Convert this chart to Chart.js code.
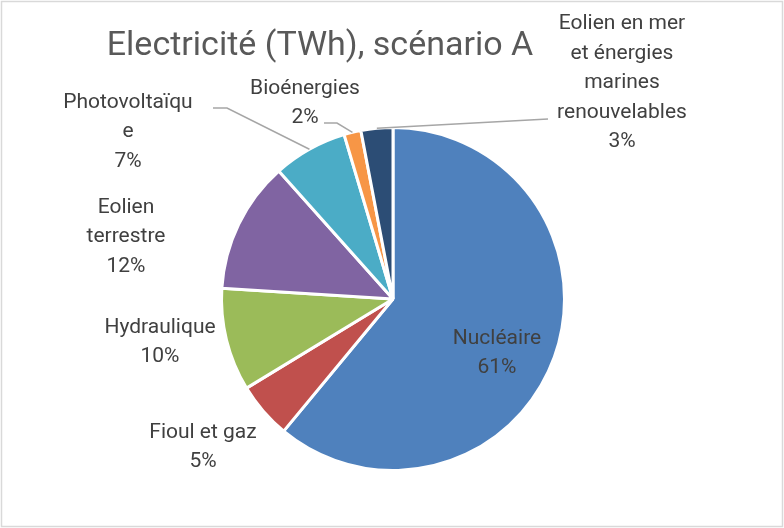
<!DOCTYPE html>
<html>
<head>
<meta charset="utf-8">
<script src="https://cdn.jsdelivr.net/npm/chart.js@4.4.1/dist/chart.umd.min.js"></script>
<style>
  html, body { margin: 0; padding: 0; background: #fff; }
</style>
</head>
<body>
<canvas id="electricity-chart" width="784" height="528"></canvas>
<script>
// data
const categories = ['Nucléaire', 'Fioul et gaz', 'Hydraulique', 'Eolien terrestre', 'Photovoltaïque', 'Bioénergies', 'Eolien en mer et énergies marines renouvelables'];
const shares = [61, 5.3, 9.7, 12.4, 7, 1.6, 3];
const labelLines = [['Nucléaire'], ['Fioul et gaz'], ['Hydraulique'], ['Eolien', 'terrestre'], ['Photovoltaïqu', 'e'], ['Bioénergies'], ['Eolien en mer', 'et énergies', 'marines', 'renouvelables']];
const chartTitle = 'Electricité (TWh), scénario A';

const sliceColors = ['#4F81BD', '#C0504D', '#9BBB59', '#8064A2', '#4BACC6', '#F79646', '#2C4D75'];

// label block centre, px from pie centre
const labelOffsets = [[104, 54], [-190, 148], [-233, 43], [-267, -62], [-265, -167], [-88, -196], [229, -216]];
// leader line points, px from label centre (null = no leader)
const leaders = [null, null, null, null, [[99, -24], [85, -24]], [[32, 20], [19, 20]], [[-74, 36]]];

const total = shares.reduce((a, b) => a + b, 0);

const labelPlugin = {
  id: 'pieLabels',
  beforeDraw(chart) {
    const ctx = chart.ctx;
    ctx.save();
    ctx.fillStyle = '#fff';
    ctx.fillRect(0, 0, chart.width, chart.height);
    ctx.strokeStyle = '#d9d9d9';
    ctx.lineWidth = 1.5;
    ctx.strokeRect(1.5, 1.5, 781, 525);
    ctx.restore();
  },
  afterDatasetsDraw(chart) {
    const ctx = chart.ctx;
    const arcs = chart.getDatasetMeta(0).data;
    ctx.save();
    // title
    ctx.fillStyle = '#595959';
    ctx.font = '34px Roboto';
    ctx.textAlign = 'center';
    ctx.textBaseline = 'alphabetic';
    ctx.fillText(chartTitle, 320, 55);

    ctx.font = '21px Roboto';
    ctx.textBaseline = 'middle';
    const lineH = 29.5;
    arcs.forEach((arc, i) => {
      const p = arc.getProps(['x', 'y', 'startAngle', 'endAngle', 'outerRadius'], true);
      const lx = p.x + labelOffsets[i][0];
      const ly = p.y + labelOffsets[i][1];
      if (leaders[i]) {
        const mid = (p.startAngle + p.endAngle) / 2;
        ctx.strokeStyle = '#a6a6a6';
        ctx.lineWidth = 1.5;
        ctx.beginPath();
        ctx.moveTo(p.x + Math.cos(mid) * p.outerRadius, p.y + Math.sin(mid) * p.outerRadius);
        leaders[i].forEach(pt => ctx.lineTo(lx + pt[0], ly + pt[1]));
        ctx.stroke();
      }
      const lines = labelLines[i].concat([Math.round(shares[i] / total * 100) + '%']);
      const top = ly - (lines.length - 1) * lineH / 2;
      ctx.fillStyle = '#404040';
      lines.forEach((t, k) => ctx.fillText(t, lx, top + k * lineH));
    });
    ctx.restore();
  }
};

new Chart(document.getElementById('electricity-chart').getContext('2d'), {
  type: 'pie',
  data: {
    labels: categories,
    datasets: [{
      data: shares,
      backgroundColor: sliceColors,
      borderColor: '#ffffff',
      borderWidth: 3
    }]
  },
  options: {
    responsive: false,
    animation: false,
    layout: { padding: { top: 126, bottom: 56, left: 220, right: 218 } },
    plugins: {
      legend: { display: false },
      tooltip: { enabled: false },
      title: { display: false }
    }
  },
  plugins: [labelPlugin]
});
</script>
</body>
</html>
